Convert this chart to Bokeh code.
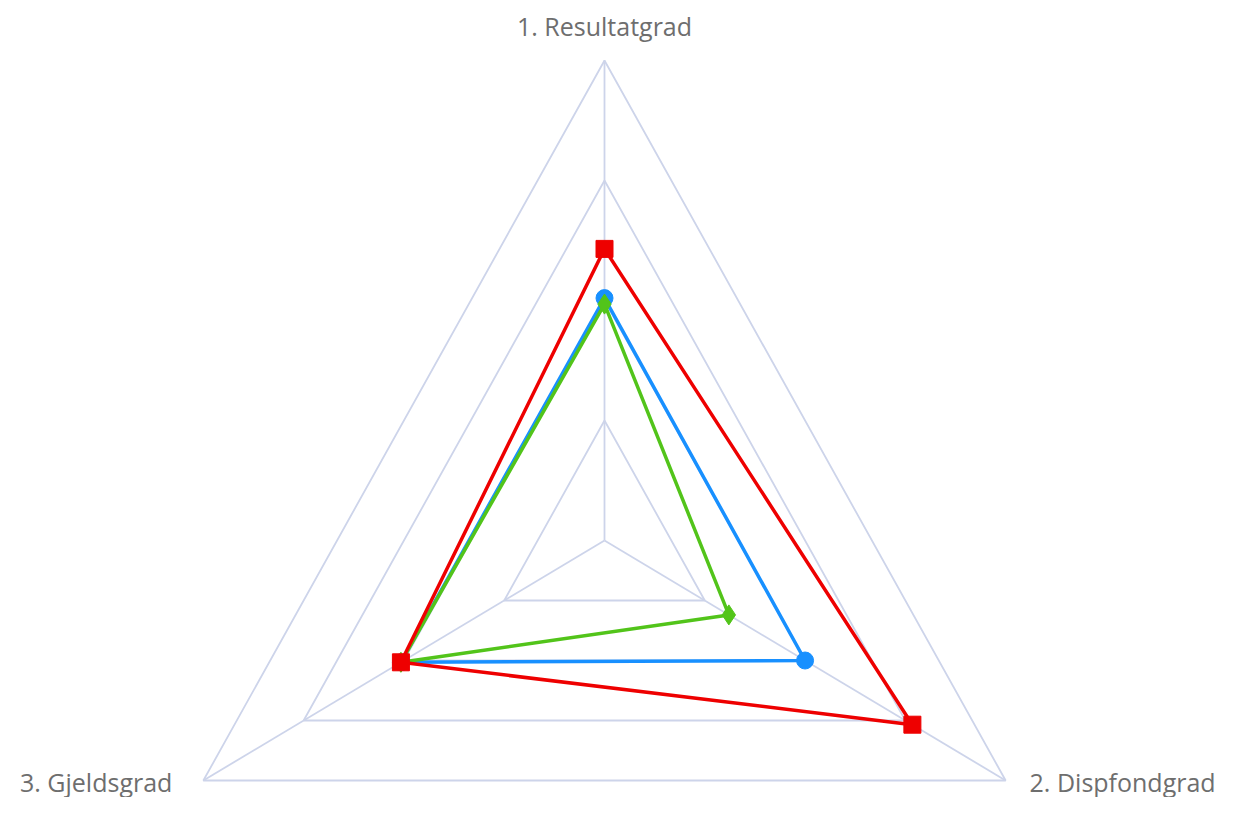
import numpy as np
from bokeh.plotting import figure
from bokeh.models import Range1d
from bokeh.core.properties import value
from bokeh.embed import file_html
from bokeh.resources import INLINE

# ---- data ----
axes_labels = ["1. Resultatgrad", "2. Dispfondgrad", "3. Gjeldsgrad"]
ring_levels = [1, 2, 3, 4]
blue_values = [2.02, 2.00, 2.03]
green_values = [1.97, 1.24, 2.03]
red_values = [2.43, 3.07, 2.03]

series = [
    ("blue", blue_values, "#1890ff", "circle", 17),
    ("green", green_values, "#52c41a", "diamond", 20),
    ("red", red_values, "#ee0000", "square", 17),
]

angles = np.radians([90, -30, 210])
vmax = max(ring_levels)


def to_xy(vals):
    v = np.asarray(vals, dtype=float)
    return list(v * np.cos(angles)), list(v * np.sin(angles))


W, H = 1218, 797
cx_px, cy_px = 604, 540           # centre in canvas pixels
px_per_unit_x, px_per_unit_y = 115.8, 120.0

p = figure(width=W, height=H, output_backend="svg", toolbar_location=None,
           x_range=Range1d(-cx_px / px_per_unit_x, (W - cx_px) / px_per_unit_x),
           y_range=Range1d(-(H - cy_px) / px_per_unit_y, cy_px / px_per_unit_y),
           min_border=0, outline_line_color=None)
p.axis.visible = False
p.grid.visible = False
p.background_fill_color = "white"
p.border_fill_color = "white"

grid_color = "#cdd4ea"
# rings
for lvl in ring_levels:
    xs, ys = to_xy([lvl] * 3)
    p.line(xs + [xs[0]], ys + [ys[0]], line_color=grid_color, line_width=1.8)
# spokes
ox, oy = to_xy([vmax] * 3)
p.segment(x0=[0] * 3, y0=[0] * 3, x1=ox, y1=oy, line_color=grid_color, line_width=1.8)

# series
for name, vals, col, marker, size in series:
    xs, ys = to_xy(vals)
    p.line(xs + [xs[0]], ys + [ys[0]], line_color=col, line_width=3.5)
    p.scatter(xs, ys, marker=marker, size=size, fill_color=col, line_color=col)

# axis labels
font = value("Open Sans")
lab_col = "#6e6e6e"
fs = "25px"
p.text([ox[0]], [oy[0]], text=[axes_labels[0]], text_align="center",
       text_baseline="alphabetic", y_offset=-35, text_font=font,
       text_font_size=fs, text_color=lab_col)
p.text([ox[1]], [oy[1]], text=[axes_labels[1]], text_align="right",
       text_baseline="bottom", x_offset=210, y_offset=18, text_font=font,
       text_font_size=fs, text_color=lab_col)
p.text([ox[2]], [oy[2]], text=[axes_labels[2]], text_align="right",
       text_baseline="bottom", x_offset=-31, y_offset=18, text_font=font,
       text_font_size=fs, text_color=lab_col)

open("out.html", "w").write(file_html(p, INLINE))
